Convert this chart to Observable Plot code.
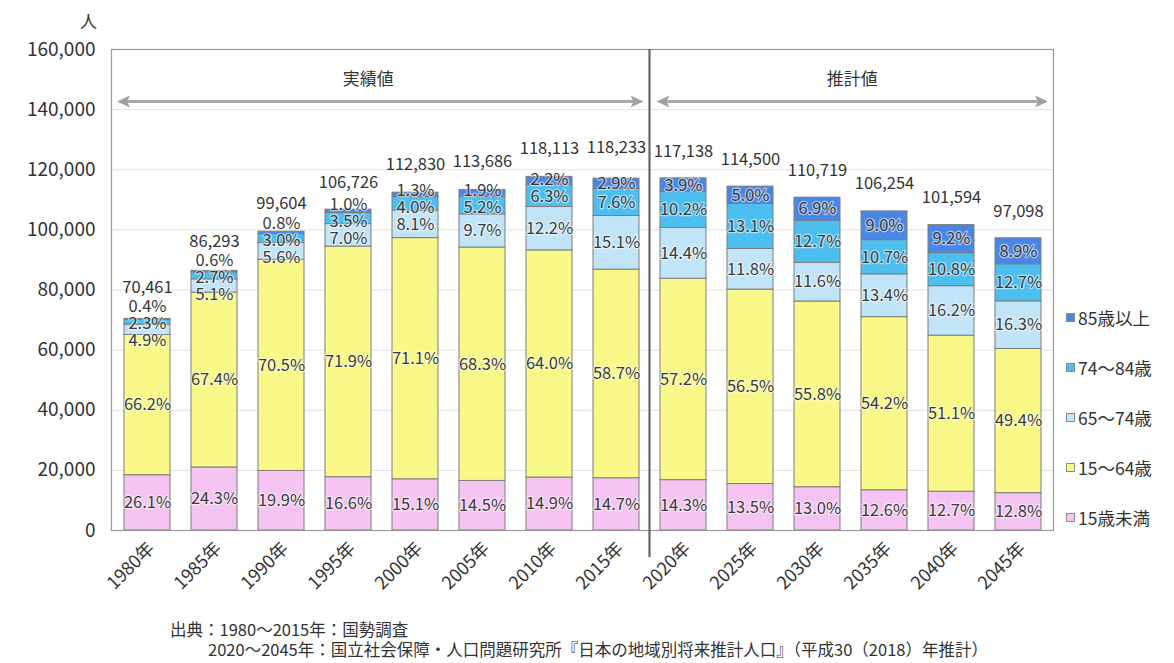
<!DOCTYPE html>
<html><head><meta charset="utf-8">
<script src="https://cdn.jsdelivr.net/npm/d3@7"></script>
<script src="https://cdn.jsdelivr.net/npm/@observablehq/plot@0.6"></script>
<style>
body{margin:0;background:#fff;font-family:"Noto Sans CJK JP","Noto Sans",sans-serif;color:#333}
#wrap{position:relative;width:1174px;height:663px;overflow:hidden;background:#fff}
#chart{position:absolute;left:0;top:0}
.unit{position:absolute;left:80px;top:8px;font-size:17px}
.legend{position:absolute;left:1066px;top:0;font-size:17.5px}
.legend .row{position:absolute;left:0;white-space:nowrap;display:flex;align-items:center;height:24px}
.legend .sw{width:7px;height:7px;border:1px solid #8a8a8a;margin-right:3px}
.cap{position:absolute;font-size:16.5px;white-space:nowrap;line-height:18px}
</style></head><body>
<div id="wrap">
<div id="chart"></div>
<div class="unit">人</div>
<div class="legend" id="legend"></div>
<div class="cap" style="left:170px;top:620px">出典：1980～2015年：国勢調査</div>
<div class="cap" style="left:208px;top:640px">2020～2045年：国立社会保障・人口問題研究所『日本の地域別将来推計人口』（平成30（2018）年推計）</div>
</div>
<script>
// ---- data ----
const years = ["1980年","1985年","1990年","1995年","2000年","2005年","2010年","2015年","2020年","2025年","2030年","2035年","2040年","2045年"];
const totals = [70461, 86293, 99604, 106726, 112830, 113686, 118113, 118233, 117138, 114500, 110719, 106254, 101594, 97098];
const groups = ["15歳未満","15～64歳","65～74歳","74～84歳","85歳以上"];
const pctUnder15 = [26.1,24.3,19.9,16.6,15.1,14.5,14.9,14.7,14.3,13.5,13.0,12.6,12.7,12.8];
const pct15to64  = [66.2,67.4,70.5,71.9,71.1,68.3,64.0,58.7,57.2,56.5,55.8,54.2,51.1,49.4];
const pct65to74  = [4.9,5.1,5.6,7.0,8.1,9.7,12.2,15.1,14.4,11.8,11.6,13.4,16.2,16.3];
const pct74to84  = [2.3,2.7,3.0,3.5,4.0,5.2,6.3,7.6,10.2,13.1,12.7,10.7,10.8,12.7];
const pct85plus  = [0.4,0.6,0.8,1.0,1.3,1.9,2.2,2.9,3.9,5.0,6.9,9.0,9.2,8.9];
const colors = ["#f6c4f2","#f9f98a","#c2e4f8","#4cbff0","#4a86e6"];
const yTicks = [0,20000,40000,60000,80000,100000,120000,140000,160000];
const periodLabels = ["実績値","推計値"];

// ---- build table ----
const pctSeries = [pctUnder15, pct15to64, pct65to74, pct74to84, pct85plus];
const perPx = 160000 / 481; // data units per pixel of the y scale
const segs = [];
const totalRows = [];
const minGap = 17 * perPx; // label spacing in data units
years.forEach((yr, i) => {
  let cum = 0;
  const rows = [];
  pctSeries.forEach((ser, g) => {
    const v = totals[i] * ser[i] / 100;
    rows.push({year: yr, group: groups[g], y1: cum, y2: cum + v, ly: cum + v / 2, label: ser[i].toFixed(1) + "%"});
    cum += v;
  });
  for (let it = 0; it < 60; it++) {
    for (let k = 0; k < rows.length - 1; k++) {
      const d = rows[k + 1].ly - rows[k].ly;
      if (d < minGap) {
        const push = (minGap - d) / 2;
        rows[k].ly -= push; rows[k + 1].ly += push;
      }
    }
  }
  segs.push(...rows);
  const topLabel = rows[rows.length - 1].ly;
  totalRows.push({year: yr, total: totals[i], ty: Math.max(totals[i] + 27 * perPx, topLabel + 19 * perPx)});
});
const fmt = d3.format(",");
const font = '"Noto Sans CJK JP","Noto Sans",sans-serif';

const plot = Plot.plot({
  width: 1174, height: 610,
  marginLeft: 111, marginRight: 121, marginTop: 49, marginBottom: 80,
  style: {fontFamily: font, fontSize: "16px", color: "#333", background: "transparent"},
  x: {domain: years, paddingInner: 0.317, paddingOuter: 0.158, label: null},
  y: {domain: [0, 160000], label: null},
  color: {domain: groups, range: colors},
  marks: [
    Plot.gridY(yTicks, {stroke: "#e6e0e0", strokeOpacity: 1}),
    Plot.barY(segs, {x: "year", y1: "y1", y2: "y2", fill: "group", stroke: "#7d7d7d", strokeWidth: 1}),
    Plot.frame({stroke: "#9a9a9a", strokeWidth: 1.2}),
    Plot.axisY(yTicks, {tickSize: 0, tickPadding: 16, fontSize: 19, tickFormat: fmt, fill: "#333"}),
    Plot.axisX({tickSize: 0, tickRotate: -45, tickPadding: 15, fontSize: 18, fill: "#333", dx: 4}),
    Plot.text(segs, {x: "year", y: "ly", text: "label", fontSize: 16.5, fill: "#3a3a3a", stroke: "white", strokeWidth: 2.5, strokeOpacity: 0.55}),
    Plot.text(totalRows, {x: "year", y: "ty", text: d => fmt(d.total), fontSize: 16.5, fill: "#333"})
  ]
});
document.getElementById("chart").appendChild(plot);

// ---- annotations: divider & period arrows ----
const xs = plot.scale("x"), ys = plot.scale("y");
const svg = d3.select(plot);
const x2015 = xs.apply("2015年") + xs.bandwidth;
const x2020 = xs.apply("2020年");
const divX = (x2015 + x2020) / 2;
const left = xs.range[0], right = xs.range[1];
const yTop = ys.apply(160000), yBase = ys.apply(0);
svg.append("line").attr("x1", divX).attr("x2", divX).attr("y1", yTop).attr("y2", yBase + 27)
  .attr("stroke", "#666").attr("stroke-width", 2.2);
const arrowY = ys.apply(142500), textY = ys.apply(149500);
function dblArrow(xa, xb) {
  const g = svg.append("g");
  g.append("line").attr("x1", xa + 8).attr("x2", xb - 8).attr("y1", arrowY).attr("y2", arrowY)
    .attr("stroke", "#a9a9a9").attr("stroke-width", 3);
  g.append("path").attr("d", `M${xa},${arrowY} L${xa + 13},${arrowY - 6} L${xa + 10},${arrowY} L${xa + 13},${arrowY + 6} Z`).attr("fill", "#a0a0a0");
  g.append("path").attr("d", `M${xb},${arrowY} L${xb - 13},${arrowY - 6} L${xb - 10},${arrowY} L${xb - 13},${arrowY + 6} Z`).attr("fill", "#a0a0a0");
}
dblArrow(left + 6, divX - 6);
dblArrow(divX + 7, right - 5);
[[left + 6, divX - 6], [divX + 7, right - 5]].forEach(([a, b], i) => {
  svg.append("text").attr("x", (a + b) / 2 - (i === 0 ? 12 : 0)).attr("y", textY).attr("text-anchor", "middle")
    .attr("dominant-baseline", "middle").attr("font-size", 17).attr("fill", "#333").attr("font-family", font).text(periodLabels[i]);
});

// ---- legend ----
const leg = document.getElementById("legend");
const order = [4, 3, 2, 1, 0];
order.forEach((g, k) => {
  const row = document.createElement("div");
  row.className = "row";
  row.style.top = (305 + k * 50) + "px";
  row.innerHTML = `<span class="sw" style="background:${colors[g]}"></span><span>${groups[g]}</span>`;
  leg.appendChild(row);
});
</script>
</body></html>
